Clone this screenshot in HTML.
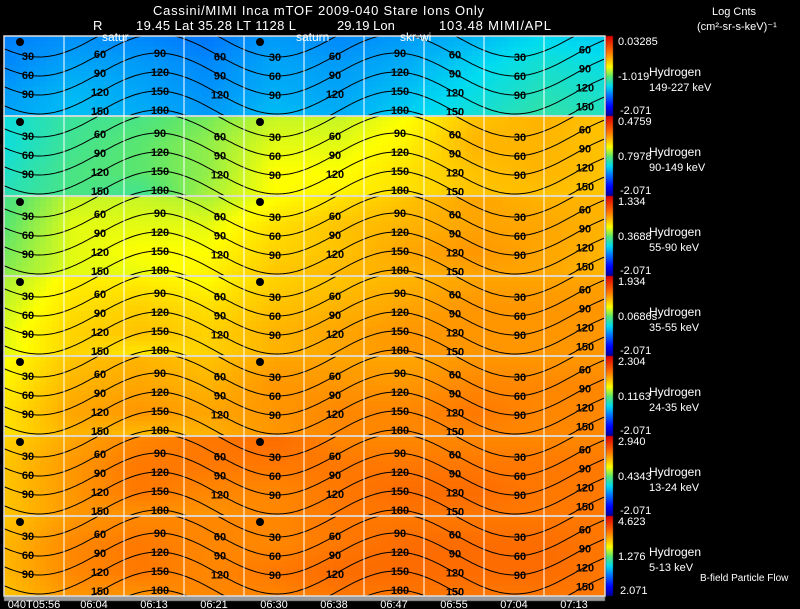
<!DOCTYPE html>
<html><head><meta charset="utf-8">
<style>
html,body{margin:0;padding:0;background:#000;}
#wrap{position:relative;width:800px;height:609px;overflow:hidden;background:#000;}
canvas,svg{position:absolute;left:0;top:0;}
text{font-family:"Liberation Sans",sans-serif;}
</style></head>
<body>
<div id="wrap">
<canvas id="heat" width="800" height="609"></canvas>
<svg id="ov" width="800" height="609"></svg>
</div>
<script>
// ---- data ----
const panelSpecies = ["Hydrogen","Hydrogen","Hydrogen","Hydrogen","Hydrogen","Hydrogen","Hydrogen"];
const panelEnergies = ["149-227 keV","90-149 keV","55-90 keV","35-55 keV","24-35 keV","13-24 keV","5-13 keV"];
const cbarTop = ["0.03285","0.4759","1.334","1.934","2.304","2.940","4.623"];
const cbarMid = ["-1.019","0.7978","0.3688","0.0686s","0.1163","0.4343","1.276"];
const cbarBot = ["-2.071","-2.071","-2.071","-2.071","-2.071","-2.071","2.071"];
const timeLabels = ["040T05:56","06:04","06:13","06:21","06:30","06:38","06:47","06:55","07:04","07:13"];
const contourLevels = [30,60,90,120,150,180];
// colormap position (0..1) grid per panel: 10 columns x 4 rows
const panel1 = [[.28,.30,.29,.27,.31,.29,.31,.34,.38,.36],[.29,.32,.31,.29,.32,.31,.33,.37,.41,.39],[.31,.34,.32,.30,.33,.32,.35,.39,.43,.41],[.32,.35,.33,.31,.35,.33,.37,.41,.45,.43]];
const panel2 = [[.40,.46,.48,.52,.58,.58,.62,.70,.72,.70],[.40,.47,.50,.54,.60,.60,.64,.72,.72,.70],[.42,.48,.50,.54,.62,.62,.66,.70,.72,.70],[.44,.48,.46,.56,.62,.64,.66,.70,.70,.70]];
const panel3 = [[.48,.58,.58,.56,.62,.66,.70,.74,.72,.72],[.50,.60,.60,.60,.66,.70,.72,.74,.74,.72],[.52,.60,.62,.62,.68,.70,.74,.76,.74,.72],[.54,.60,.60,.64,.70,.72,.72,.74,.74,.72]];
const panel4 = [[.56,.64,.64,.62,.68,.70,.72,.74,.74,.74],[.58,.66,.68,.66,.70,.72,.74,.76,.76,.76],[.60,.68,.70,.68,.72,.74,.76,.76,.76,.76],[.60,.68,.64,.68,.72,.74,.76,.76,.76,.76]];
const panel5 = [[.62,.70,.72,.70,.74,.74,.74,.76,.76,.76],[.64,.72,.74,.72,.76,.76,.76,.78,.78,.78],[.66,.74,.76,.74,.76,.78,.78,.80,.78,.78],[.66,.72,.70,.72,.76,.78,.78,.78,.78,.78]];
const panel6 = [[.68,.74,.78,.80,.82,.78,.78,.78,.78,.78],[.70,.76,.80,.80,.80,.80,.80,.80,.80,.80],[.70,.76,.80,.78,.78,.80,.82,.82,.80,.80],[.70,.76,.76,.76,.78,.80,.80,.80,.80,.80]];
const panel7 = [[.70,.76,.78,.78,.78,.80,.80,.80,.80,.80],[.72,.78,.80,.78,.78,.80,.82,.82,.82,.80],[.72,.78,.80,.78,.80,.82,.82,.82,.82,.80],[.70,.76,.76,.78,.78,.80,.80,.80,.80,.80]];
const panels = [panel1,panel2,panel3,panel4,panel5,panel6,panel7];

// ---- layout ----
const X0=4, X1=605, Y0=36, PH=80, NP=7;
const gridStep=60;
function panelTop(i){return Y0+i*PH;}
function jet(t){
  t=Math.max(0,Math.min(1,t));
  const stops=[[0,0,0,140],[.12,0,0,255],[.26,0,110,255],[.38,0,220,240],[.5,90,230,110],[.62,255,255,0],[.8,255,120,0],[1,220,0,0]];
  for(let k=1;k<stops.length;k++){ if(t<=stops[k][0]){const a=stops[k-1],b=stops[k],f=(t-a[0])/(b[0]-a[0]);
    return [a[1]+(b[1]-a[1])*f,a[2]+(b[2]-a[2])*f,a[3]+(b[3]-a[3])*f].map(Math.round);} }
  return [220,0,0];
}
function sample(g,u,v){ // bilinear
  const cx=u*(g[0].length-1), cy=v*(g.length-1);
  const i=Math.min(Math.floor(cx),g[0].length-2), j=Math.min(Math.floor(cy),g.length-2);
  const fx=cx-i, fy=cy-j;
  return g[j][i]*(1-fx)*(1-fy)+g[j][i+1]*fx*(1-fy)+g[j+1][i]*(1-fx)*fy+g[j+1][i+1]*fx*fy;
}
const ctx=document.getElementById('heat').getContext('2d');
const cw=6, ch=5;
panels.forEach((g,p)=>{
  const top=panelTop(p);
  for(let x=X0;x<X1;x+=cw){ for(let y=top;y<top+PH;y+=ch){
    const c=jet(sample(g,(x-X0)/(X1-X0),(y-top)/PH));
    ctx.fillStyle=`rgb(${c[0]},${c[1]},${c[2]})`;
    ctx.fillRect(x,y,Math.min(cw,X1-x),Math.min(ch,top+PH-y));
  }}
  for(let y=0;y<PH;y++){const c=jet(1-y/PH);ctx.fillStyle=`rgb(${c[0]},${c[1]},${c[2]})`;ctx.fillRect(606,top+y,7,1);}
});
ctx.fillStyle='#999';ctx.fillRect(X0,596,X1-X0,5);

const NS='http://www.w3.org/2000/svg';
const svg=document.getElementById('ov');
function mk(tag,attrs,parent){const e=document.createElementNS(NS,tag);for(const k in attrs)e.setAttribute(k,attrs[k]);(parent||svg).appendChild(e);return e;}
function txt(s,x,y,attrs){const e=mk('text',Object.assign({x:x,y:y,fill:'#fff','font-size':12},attrs||{}));e.textContent=s;return e;}

function contourY(level,x){return 38+(level-90)*19/30-21*Math.cos(2*Math.PI*(x-158)/238);}
const labelXs=[28,100,160,220,275,335,400,455,520,585];
panels.forEach((g,p)=>{
  const top=panelTop(p);
  const grp=mk('g',{'clip-path':'url(#clip'+p+')'});
  
  
  const cp=mk('clipPath',{id:'clip'+p});mk('rect',{x:X0,y:top,width:X1-X0,height:PH},cp);
  contourLevels.forEach(lv=>{
    let d='';for(let x=X0;x<=X1;x+=3){d+=(x===X0?'M':'L')+x+','+(top+contourY(lv,x)).toFixed(1);}
    const path=mk('path',{d:d,fill:'none',stroke:'#000','stroke-width':1},grp);
    
    
    labelXs.forEach(lx=>{const yy=contourY(lv,lx);if(yy>8&&yy<PH-4){
      const t=txt(String(lv),lx,top+yy+4,{fill:'#000','font-size':11,'font-weight':'bold','text-anchor':'middle'});grp.appendChild(t);
      
      }});
  });
  const fr=mk('rect',{x:X0,y:top,width:X1-X0,height:PH,fill:'none',stroke:'#ddd','stroke-width':1.5});
  
  
  mk('circle',{cx:20,cy:top+6,r:4,fill:'#000'});
  mk('circle',{cx:260,cy:top+6,r:4,fill:'#000'});
  const a=txt(cbarTop[p],618,top+9,{'font-size':11});
  const b=txt(cbarMid[p],618,top+44,{'font-size':11});
  const c=txt(cbarBot[p],620,top+78,{'font-size':11});
  const s=txt(panelSpecies[p],649,top+40);
  const e=txt(panelEnergies[p],649,top+55,{'font-size':11});
});
timeLabels.forEach((tl,i)=>{
  const x=X0+i*gridStep;
  if(i>0){const l=mk('line',{x1:x,y1:Y0,x2:x,y2:596,stroke:'#fff','stroke-width':1});
    }
  const t=txt(tl,x+30,608,{'font-size':11,'text-anchor':'middle'});
  
  
});
txt('B-field Particle Flow',700,581,{'font-size':10});
txt('Cassini/MIMI Inca mTOF  2009-040   Stare   Ions Only',153,15,{'font-size':13,'textLength':331});
txt('R',93,30,{'font-size':13});
txt('19.45 Lat 35.28 LT 1128 L',136,30,{'font-size':13,'textLength':160});
txt('29.19 Lon',337,30,{'font-size':13});
txt('103.48  MIMI/APL',439,30,{'font-size':13,'textLength':112});
txt('Log Cnts',712,15,{'font-size':11});
txt('(cm²-sr-s-keV)⁻¹',697,30,{'font-size':11});
txt('satur',102,41,{'font-size':12});
txt('saturn',296,41,{'font-size':12});
txt('skr-wi',400,41,{'font-size':12});
</script>
</body></html>
